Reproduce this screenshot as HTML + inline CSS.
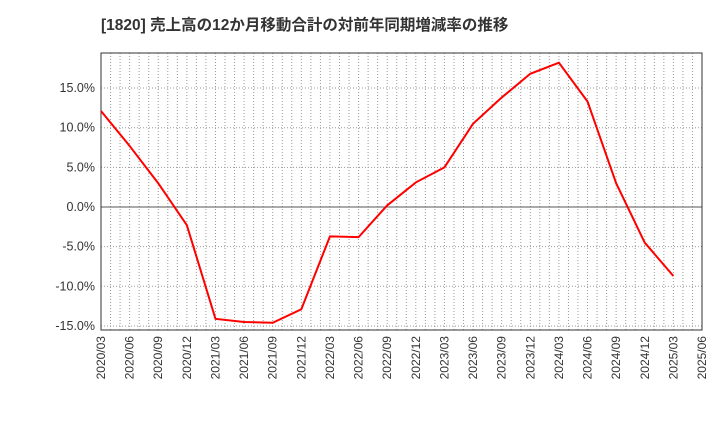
<!DOCTYPE html>
<html><head><meta charset="utf-8"><style>
body{margin:0;background:#fff;font-family:"Liberation Sans","Noto Sans CJK JP",sans-serif;}
</style></head><body>
<svg id="c" width="720" height="440" xmlns="http://www.w3.org/2000/svg">
<text x="101" y="30" font-size="15.5" font-weight="bold" fill="#333" font-family="Liberation Sans, Noto Sans CJK JP, sans-serif">[1820]  売上高の12か月移動合計の対前年同期増減率の推移</text>
<g id="grid"></g><g id="axes"></g><g id="series"></g>
</svg>
<script>
const xLabels=["2020/03","2020/06","2020/09","2020/12","2021/03","2021/06","2021/09","2021/12","2022/03","2022/06","2022/09","2022/12","2023/03","2023/06","2023/09","2023/12","2024/03","2024/06","2024/09","2024/12","2025/03","2025/06"];
const values=[12.1,7.7,3.0,-2.3,-14.1,-14.5,-14.6,-12.9,-3.7,-3.8,0.2,3.1,5.0,10.5,13.8,16.8,18.2,13.3,3.0,-4.5,-8.7];
const yTicks=[15,10,5,0,-5,-10,-15];
const L=101,R=702,T=53,B=330;
const xs=i=>L+(R-L)*i/(xLabels.length-1);
const ys=v=>207-v*7.93;
const NS="http://www.w3.org/2000/svg";
function mk(p,t,a){const e=document.createElementNS(NS,t);for(const k in a)e.setAttribute(k,a[k]);p.appendChild(e);return e;}
const g=document.getElementById('grid'),ax=document.getElementById('axes'),s=document.getElementById('series');
const nMonths=(xLabels.length-1)*3;
for(let m=1;m<nMonths;m++){const x=L+(R-L)*m/nMonths;
const l=mk(g,'line',{x1:x,x2:x,y1:T,y2:B,stroke:'#999','stroke-dasharray':'1,2','stroke-width':1});
}
yTicks.forEach(v=>{const y=ys(v);
const l=mk(g,'line',{x1:L,x2:R,y1:y,y2:y,stroke:v===0?'#555':'#999','stroke-dasharray':v===0?'none':'1,2','stroke-width':1});

const t=mk(ax,'text',{x:L-6,y:y+4,'text-anchor':'end','font-size':12.5,fill:'#333'});t.textContent=v.toFixed(1)+'%';
});
const fr=mk(ax,'rect',{x:L,y:T,width:R-L,height:B-T,fill:'none',stroke:'#333'});

xLabels.forEach((lb,i)=>{const x=xs(i);
const t=mk(ax,'text',{x:x+4,y:B+6,'text-anchor':'end','font-size':12,fill:'#333',transform:`rotate(-90 ${x+4} ${B+6})`});t.textContent=lb;
});
const p=mk(s,'polyline',{points:values.map((v,i)=>xs(i)+','+ys(v)).join(' '),fill:'none',stroke:'#f00','stroke-width':2});

</script>
</body></html>
